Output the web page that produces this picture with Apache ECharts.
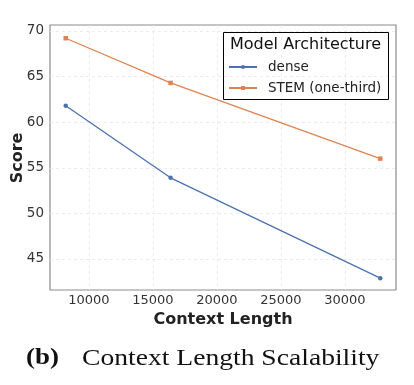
<!DOCTYPE html>
<html><head><meta charset="utf-8">
<script src="https://cdn.jsdelivr.net/npm/echarts@6/dist/echarts.min.js"></script>
<style>html,body{margin:0;padding:0;background:#fff}#c{width:414px;height:385px}</style>
</head><body><div id="c"></div>
<script>
const contextLengths = [8192, 16384, 32768];
const denseScores = [61.8, 53.9, 42.9];
const stemScores = [69.2, 64.3, 56.0];
const xTicks = [10000, 15000, 20000, 25000, 30000];
const yTicks = [45, 50, 55, 60, 65, 70];
const seriesNames = ['dense', 'STEM (one-third)'];
const legendTitle = 'Model Architecture';
const xTitle = 'Context Length';
const yTitle = 'Score';
const captionLabel = '(b)';
const captionText = 'Context Length Scalability';

const chart = echarts.init(document.getElementById('c'), null, {renderer: 'canvas'});
const font = 'DejaVu Sans';
const spine = '#8c8c8c';
const gridLine = {show: true, lineStyle: {color: '#e8e8e8', type: [3, 3], width: 0.8}};
chart.setOption({
  animation: false,
  backgroundColor: '#fff',
  grid: {left: 50, right: 18, top: 25, bottom: 95, show: true, borderColor: spine, borderWidth: 1.2,
    backgroundColor: 'transparent', containLabel: false, outerBoundsMode: 'none'},
  xAxis: {
    type: 'value', min: 6963, max: 33997,
    axisLine: {show: false}, axisTick: {show: false, customValues: xTicks},
    axisLabel: {customValues: xTicks, color: '#333', fontFamily: font, fontSize: 13, margin: 4,
      formatter: v => String(v)},
    splitLine: gridLine,
    name: xTitle, nameLocation: 'middle', nameGap: 18,
    nameTextStyle: {fontFamily: font, fontSize: 16, fontWeight: 'bold', color: '#222'}
  },
  yAxis: {
    type: 'value', min: 41.6, max: 70.65,
    axisLine: {show: false}, axisTick: {show: false, customValues: yTicks},
    axisLabel: {customValues: yTicks, color: '#333', fontFamily: font, fontSize: 13.5, margin: 6},
    splitLine: gridLine
  },
  legend: {
    orient: 'vertical', left: 223, top: 55, itemWidth: 28, itemHeight: 5, itemGap: 7,
    textStyle: {fontFamily: font, fontSize: 13.5, color: '#222', padding: [0,0,0,6]},
    data: seriesNames
  },
  graphic: [
    {type: 'text', x: 18, y: 158, rotation: Math.PI / 2,
     style: {text: yTitle, font: 'bold 16px "DejaVu Sans"', fill: '#222', align: 'center', verticalAlign: 'middle'}},
    {type: 'rect', left: 223, top: 32, z: 100, silent: true,
     shape: {width: 165, height: 67}, style: {fill: 'rgba(255,255,255,0)', stroke: '#000', lineWidth: 1}},
    {type: 'text', left: 230, top: 37, z: 100, style: {text: legendTitle, font: '16px "DejaVu Sans"', fill: '#111'}},
    {type: 'text', x: 26, y: 347, scaleX: 1.17, style: {text: captionLabel, font: 'bold 23px "Liberation Serif"', fill: '#111'}},
    {type: 'text', x: 82, y: 347, scaleX: 1.2, style: {text: captionText, font: '23px "Liberation Serif"', fill: '#111'}}
  ],
  series: [
    {name: seriesNames[0], type: 'line', data: contextLengths.map((x,i)=>[x, denseScores[i]]),
     color: '#4C72B0', symbol: 'circle', symbolSize: 4.5, lineStyle: {width: 1.3}, z: 3},
    {name: seriesNames[1], type: 'line', data: contextLengths.map((x,i)=>[x, stemScores[i]]),
     color: '#DD8452', symbol: 'rect', symbolSize: 4.5, lineStyle: {width: 1.3}, z: 3}
  ]
});
</script></body></html>
